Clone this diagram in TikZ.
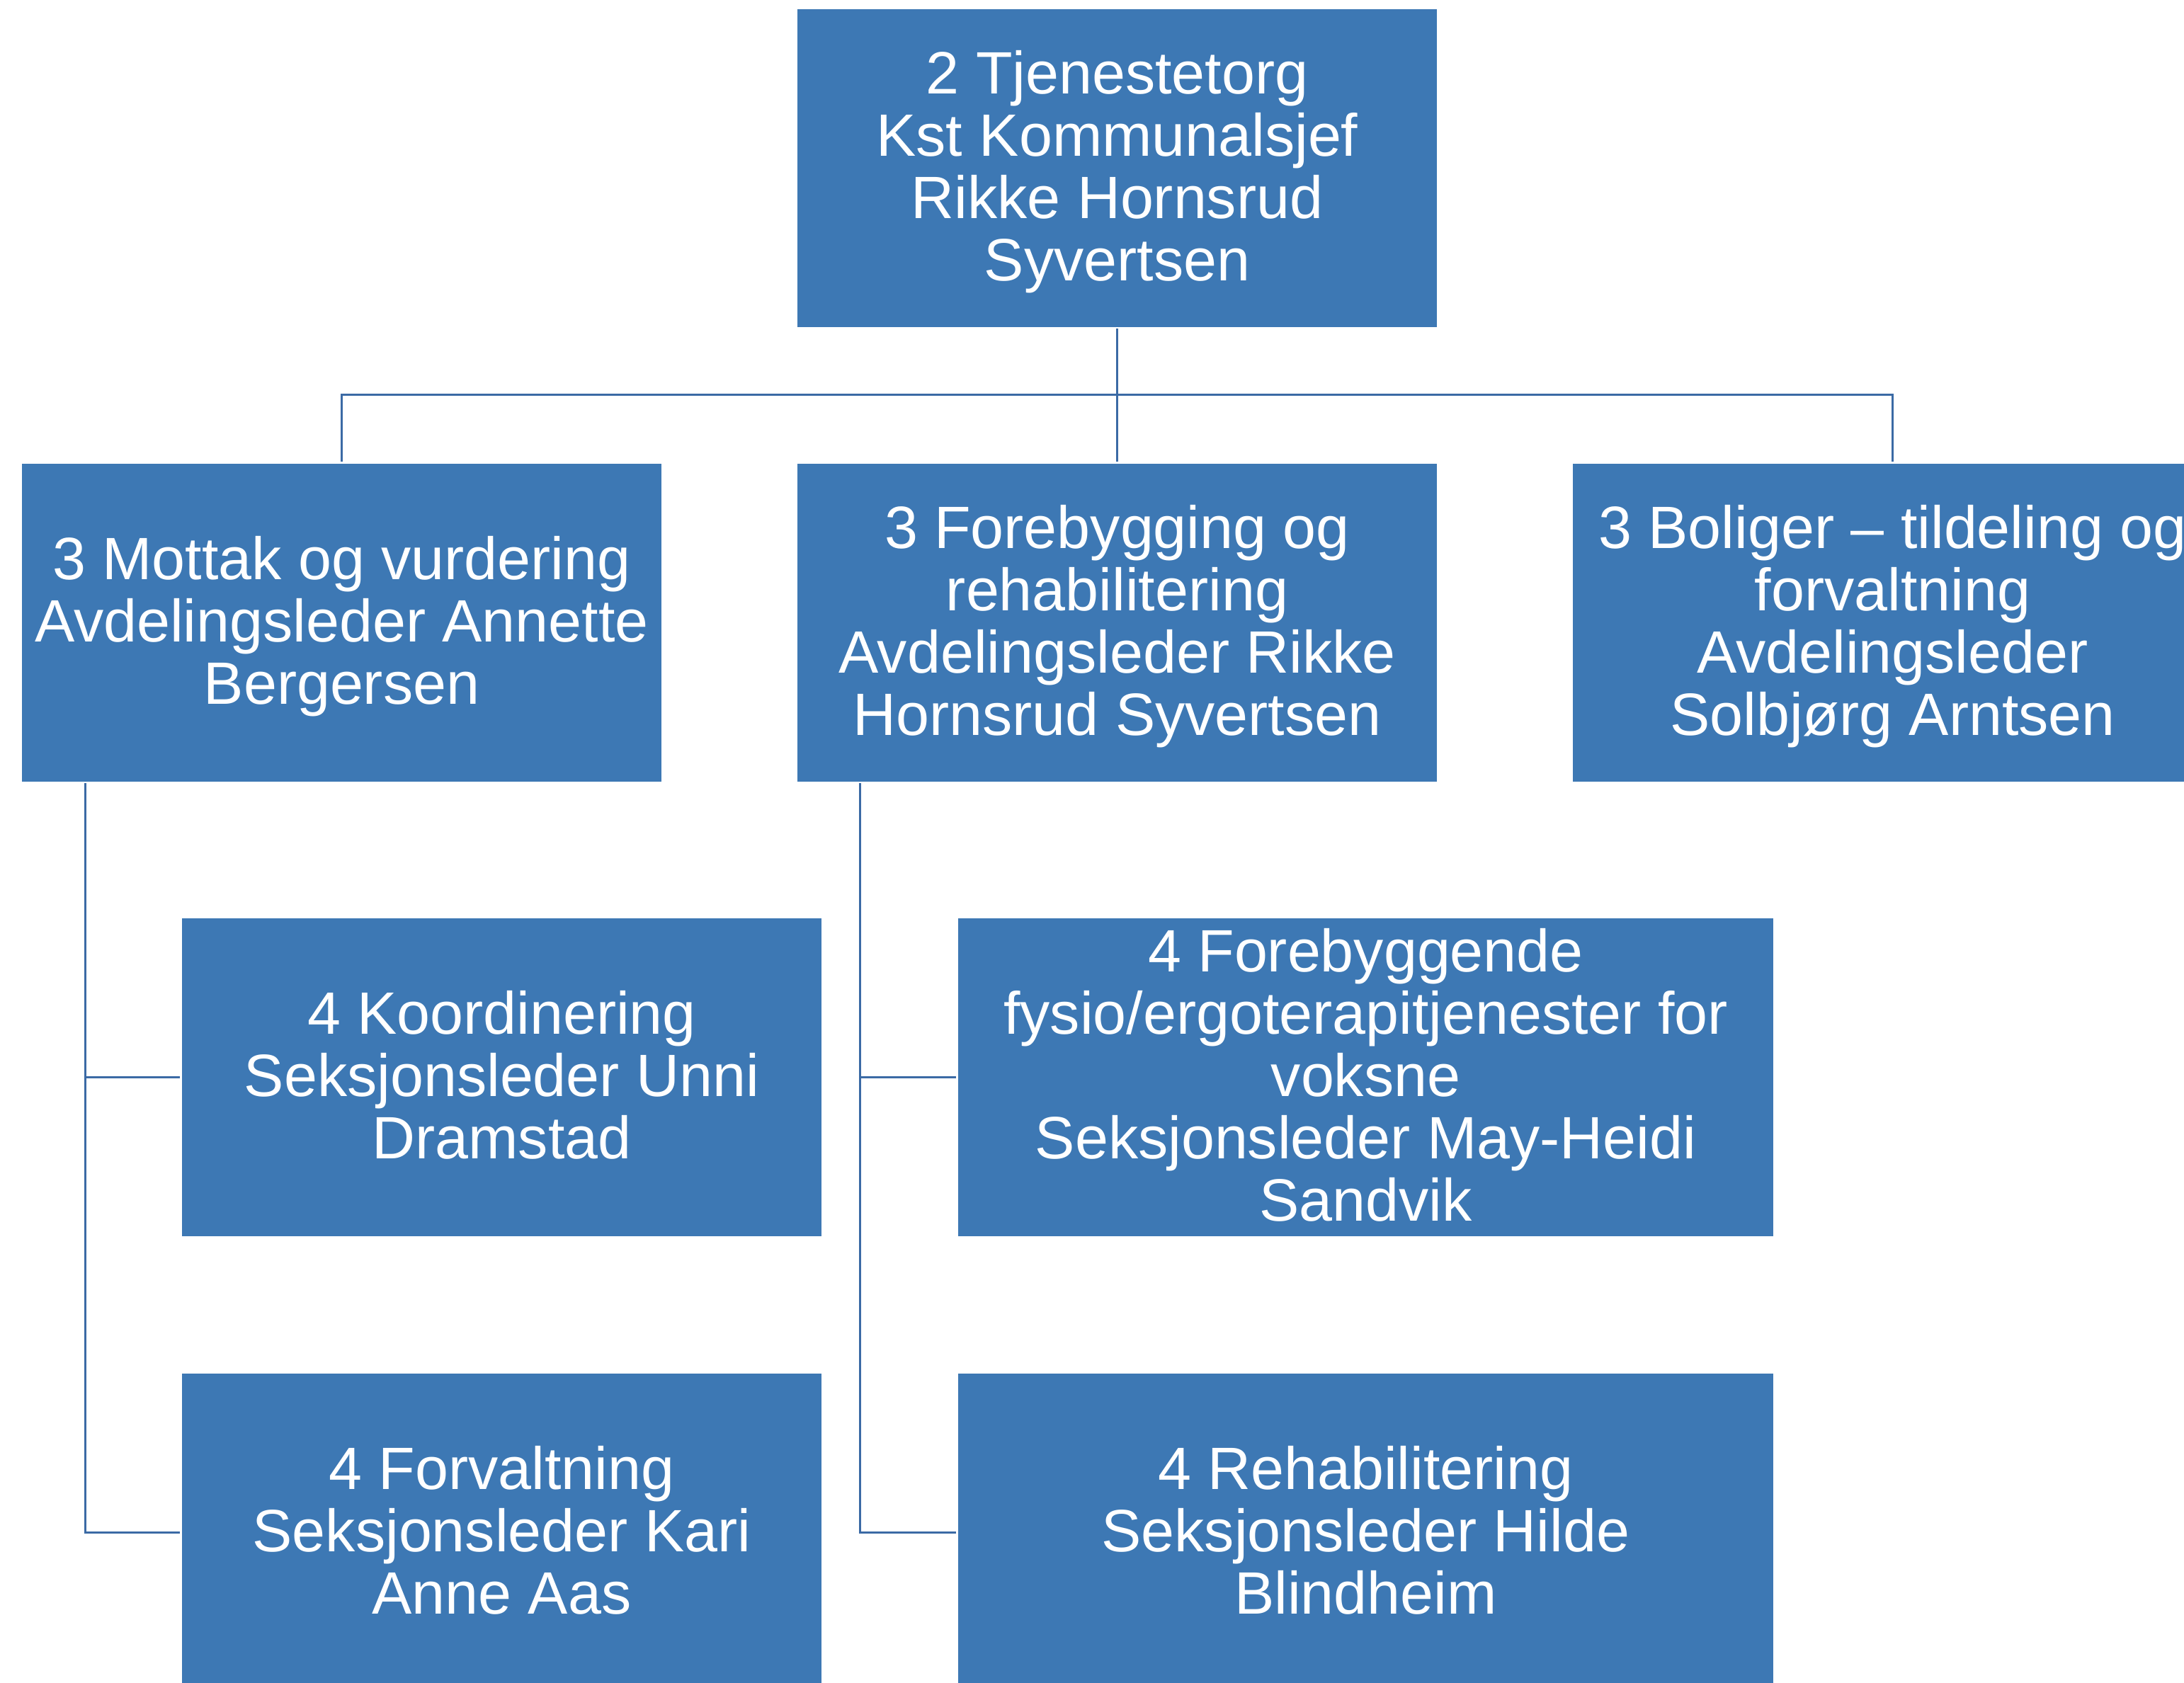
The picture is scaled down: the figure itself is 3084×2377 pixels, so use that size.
\documentclass[tikz,border=0pt]{standalone}
\usepackage{fontspec}
\setmainfont{Liberation Sans}
\newcommand\fst{\rule{0pt}{18.1pt}}
\newcommand\lst{\rule[-4.6pt]{0pt}{4.6pt}}
\definecolor{boxblue}{RGB}{61,120,180}
\definecolor{lineblue}{RGB}{59,106,165}
\tikzset{
  orgbox/.style={fill=boxblue, draw=none, text=white, inner sep=0pt, align=center,
    font=\fontsize{21.1pt}{22pt}\selectfont, minimum height=112.25pt},
  w3/.style={minimum width=225.75pt},
  w4/.style={minimum width=287.75pt},
  conn/.style={draw=lineblue, line width=0.75pt, shorten <=0.5pt, shorten >=0.5pt}
}
\begin{document}
\begin{tikzpicture}[x=0.25pt,y=-0.25pt]
\useasboundingbox (0,0) rectangle (3084,2377);
\clip (0,0) rectangle (3084,2377);
\node[orgbox,w3] (top) at (1577.5,237) {\fst 2 Tjenestetorg\\Kst Kommunalsjef\\Rikke Hornsrud\\Syvertsen\lst};
\node[orgbox,w3] (m1) at (482.5,879) {\fst 3 Mottak og vurdering\\Avdelingsleder Annette\\Bergersen\lst};
\node[orgbox,w3] (m2) at (1577.5,879) {\fst 3 Forebygging og\\rehabilitering\\Avdelingsleder Rikke\\Hornsrud Syvertsen\lst};
\node[orgbox,w3] (m3) at (2672.5,879) {\fst 3 Boliger – tildeling og\\forvaltning\\Avdelingsleder\\Solbjørg Arntsen\lst};
\node[orgbox,w3] (k1) at (708.5,1521.5) {\fst 4 Koordinering\\Seksjonsleder Unni\\Dramstad\lst};
\node[orgbox,w3] (k2) at (708.5,2164.5) {\fst 4 Forvaltning\\Seksjonsleder Kari\\Anne Aas\lst};
\node[orgbox,w4] (k3) at (1928.5,1521.5) {\fst 4 Forebyggende\\fysio/ergoterapitjenester for\\voksne\\Seksjonsleder May-Heidi\\Sandvik\lst};
\node[orgbox,w4] (k4) at (1928.5,2164.5) {\fst 4 Rehabilitering\\Seksjonsleder Hilde\\Blindheim\lst};
\coordinate (bar) at (1577.5,557);
\draw[conn] (top) -- (m2);
\draw[conn] (m1.north) |- (bar) -| (m3.north);
\draw[conn] (m1.south west) ++(90,0) |- (k1.west);
\draw[conn] (m1.south west) ++(90,0) |- (k2.west);
\draw[conn] (m2.south west) ++(89,0) |- (k3.west);
\draw[conn] (m2.south west) ++(89,0) |- (k4.west);
\end{tikzpicture}
\end{document}
